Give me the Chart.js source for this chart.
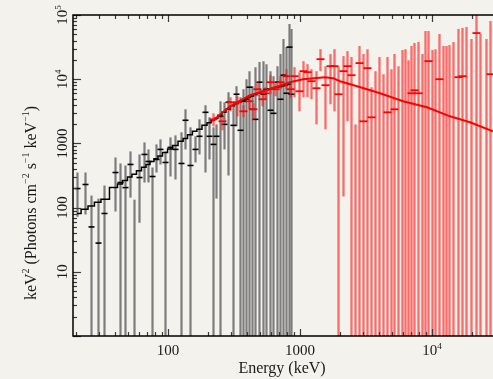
<!DOCTYPE html>
<html>
<head>
<meta charset="utf-8">
<script src="https://cdn.jsdelivr.net/npm/chart.js@4.4.0/dist/chart.umd.min.js"></script>
<style>
  html, body { margin: 0; padding: 0; background: #f4f2ed; overflow: hidden; }
  canvas { display: block; }
</style>
</head>
<body>
<canvas id="spectrum" width="493" height="379"></canvas>
<script>
// ---- Axis ranges and labels ----
const xRange = [19.1, 29040];
const yRange = [1, 1e5];
const xTickValues = [100, 1000, 10000];
const xTickLabels = ['100', '1000', '10^{4}'];
const yTickValues = [10, 100, 1000, 10000, 100000];
const yTickLabels = ['10', '100', '1000', '10^{4}', '10^{5}'];
const xTitle = 'Energy (keV)';
const yTitle = 'keV^{2} (Photons cm^{\u22122} s^{\u22121} keV^{\u22121})';

// ---- Instrument 1 (low energy) unfolded spectrum, keV ----
const blackE = [20.5, 23.6, 26.1, 29.5, 32.8, 39.7, 43.4, 47.3, 51.6, 55.3, 60.4, 65.9, 70.7, 75.7, 81.2, 87.1, 95, 104, 113, 126,
  135, 147, 160, 172, 191, 205, 220, 231, 248, 266, 285, 311, 328, 352, 371, 391, 411, 434, 457, 490,
  525, 553, 593, 625, 670, 707, 745, 785, 826, 857];
const blackFlux = [198, 229, 50, 28, 81, 352, 246, 205, 470, null, 294, 673, 523, 305, 562, 806, 505, 866, 806, 487,
  2290, 453, 806, 1290, 3050, 1290, 965, 1290, 2640, 1980, 4370, 1910, 5830, 1600, 4530, 4870, 7500, 3400, 2370, 8980,
  5830, 6980, 3280, 2940, 8980, 4870, 11550, 6040, 31600, 5830];
const blackHi = [352, 352, 154, 138, 221, 604, 487, 453, 750, 133, 673, 1037, 806, 422, 965, 1155, 750, 1240, 1333, 1490,
  3400, 1780, 1290, 2370, 3930, 2550, 1780, 1980, 4530, 4370, 6270, 3790, 7780, 5230, 6980, 10000, 13300, 7780, 15400, 18450,
  19100, 17150, 13300, 11140, 15960, 24600, 42200, 31600, 72300, 60400];
const blackLo = [72, 78, 0, 0, 0, 87, 0, 0, 143, 0, 58, 246, 246, 0, 352, 470, 0, 305, 274, 0,
  806, 0, 505, 673, 352, 562, 0, 138, 0, 806, 316, 0, 1845, 0, 0, 0, 0, 0, 0, 0,
  0, 0, 0, 0, 0, 0, 0, 0, 0, 0];
const blackModel = [81, 94, 106, 121, 135, 205, 233, 264, 300, 331, 376, 426, 471, 521, 577, 638, 723, 820, 930, 1082,
  1197, 1358, 1540, 1655, 1910, 2090, 2290, 2460, 2740, 3050, 3400, 3850, 4140, 4450, 4700, 4960, 5230, 5480, 5770, 6150,
  6490, 6730, 6980, 7230, 7500, 7660, 7910, 8110, 8350, 8510];

// ---- Instrument 2 (high energy) unfolded spectrum, keV ----
const redE = [220, 257, 295, 333, 371, 411, 441, 473, 516, 544, 593, 647, 707, 785, 841,
  902, 984, 1054, 1132, 1213, 1324, 1419, 1549, 1691, 1812,
  1944, 2120, 2275, 2437, 2612, 2805, 3006, 3221, 3457, 3705, 3972, 4257, 4571, 4898, 5164, 5534, 5931, 6252, 6590, 6950,
  7310, 7850, 8414, 8870, 9340, 10020, 10550, 11320, 12130, 12790, 13460, 14450, 15770, 16830, 18110, 19760, 21580, 23130, 25700, 27540];
const redFlux = [2370, 2210, 4370, 4370, 3160, 4530, 3400, 6980, 4870, 6040, 8980, 6980, 8980, 11140, 6980,
  11140, 6490, 13340, 12860, 9310, 7230, 20500, 8060, 15960, 15960,
  5830, 13340, 15960, 11550, null, 17800, 2210, 14860, 2550, null, null, null, 3050, null, 3400, null, null, null, null, 6040,
  6730, 6040, null, null, 19100, null, null, 10000, null, null, null, null, 10750, 11140, null, null, 52300, null, null, 11970];
const redHi = [2940, 2640, 5230, 5420, 3930, 5620, 4220, 8980, 5830, 7500, 11550, 8660, 11140, 14330, 9310,
  15400, 12860, 19100, 17150, 14330, 13340, 29400, 15960, 24600, 29400,
  15960, 22900, 27400, 22100, 1980, 32800, 24600, 29400, 7500, 13340, 22100, 11970, 22100, 14330, 24600, 15960, 28400, 29400, 19800, 32800,
  36500, 37900, 24600, 56200, 56200, 28400, 29400, 50500, 32800, 32800, 34000, 37900, 60400, 62700, 64900, 42200, 115000, 50500, 42200, 80600];
const redLo = [1845, 1600, 3160, 2640, 2550, 3400, 2370, 5420, 3790, 4870, 5830, 5420, 6980, 6980, 5050,
  5230, 3160, 5230, 5230, 4870, 1980, 13340, 1655, 4070, 3160,
  0, 149, 2210, 0, 0, 0, 0, 0, 0, 0, 0, 0, 0, 0, 0, 0, 0, 0, 0, 0,
  0, 0, 0, 0, 0, 0, 0, 0, 0, 0, 0, 0, 0, 0, 0, 0, 0, 0, 0, 0];

// ---- Fitted model, high-energy branch ----
const redModelE = [216, 295, 419, 593, 841, 1054, 1280, 1549, 1780, 2014, 2709, 4050, 6045, 9180, 13710, 19440, 29040];
const redModel = [2207, 3787, 5623, 6980, 8980, 10000, 10370, 10750, 10370, 9300, 7780, 6040, 4530, 3650, 2640, 2130, 1540];

// ---- Styling ----
const BG = '#f4f2ed';
const SERIF = '"Liberation Serif", "Times New Roman", serif';

const toPoints = (xs, ys) => xs.map((x, i) => ({ x, y: ys[i] }));

// Split "10^{4}" style strings into normal / superscript runs
function parseRich(str) {
  const parts = [];
  const re = /\^\{([^}]*)\}/g;
  let last = 0, m;
  while ((m = re.exec(str)) !== null) {
    if (m.index > last) parts.push({ t: str.slice(last, m.index), sup: false });
    parts.push({ t: m[1], sup: true });
    last = re.lastIndex;
  }
  if (last < str.length) parts.push({ t: str.slice(last), sup: false });
  return parts;
}
function fontFor(p, size) {
  return (p.sup ? Math.round(size * 0.62) : size) + 'px ' + SERIF;
}
function drawRich(ctx, str, x, y, size, align) {
  const parts = parseRich(str);
  let w = 0;
  for (const p of parts) { ctx.font = fontFor(p, size); w += ctx.measureText(p.t).width; }
  let cx = align === 'center' ? x - w / 2 : (align === 'right' ? x - w : x);
  ctx.textAlign = 'left';
  ctx.textBaseline = 'alphabetic';
  for (const p of parts) {
    ctx.font = fontFor(p, size);
    ctx.fillText(p.t, cx, p.sup ? y - size * 0.42 : y);
    cx += ctx.measureText(p.t).width;
  }
}

// Error bars and bin markers for the data series
const errorBarPlugin = {
  id: 'errorBars',
  beforeDatasetDraw(chart, args) {
    const ds = chart.data.datasets[args.index];
    if (!ds.errHi) return;
    const { ctx, chartArea: a } = chart;
    const xs = chart.scales.x, ys = chart.scales.y;
    ctx.save();
    ctx.beginPath();
    ctx.rect(a.left, a.top, a.right - a.left, a.bottom - a.top);
    ctx.clip();
    ctx.lineCap = 'butt';
    ctx.strokeStyle = ds.errColor;
    ctx.lineWidth = ds.errWidth;
    ds.data.forEach((p, i) => {
      const px = Math.round(xs.getPixelForValue(p.x)) + 0.5;
      const top = ys.getPixelForValue(ds.errHi[i]);
      const lo = ds.errLo[i];
      const bot = lo > ys.min ? ys.getPixelForValue(lo) : a.bottom;
      ctx.beginPath();
      ctx.moveTo(px, top);
      ctx.lineTo(px, bot);
      ctx.stroke();
    });
    ctx.strokeStyle = ds.markColor;
    ctx.lineWidth = ds.markLine;
    ds.data.forEach((p) => {
      if (p.y == null) return;
      const px = Math.round(xs.getPixelForValue(p.x)) + 0.5;
      const py = ys.getPixelForValue(p.y);
      ctx.beginPath();
      ctx.moveTo(px - ds.markHalf, py);
      ctx.lineTo(px + ds.markHalf, py);
      ctx.stroke();
    });
    ctx.restore();
  }
};

// Background, frame, inward ticks, tick labels and titles
const framePlugin = {
  id: 'frame',
  beforeDraw(chart) {
    const { ctx, width, height } = chart;
    ctx.save();
    ctx.fillStyle = BG;
    ctx.fillRect(0, 0, width, height);
    ctx.restore();
  },
  afterDraw(chart) {
    const { ctx, chartArea: a } = chart;
    const xs = chart.scales.x, ys = chart.scales.y;
    ctx.save();

    // inward ticks: majors at decades, minors at 2..9
    ctx.strokeStyle = '#3a3a3a';
    ctx.lineWidth = 1.2;
    const ticksFor = (scale) => {
      const out = [];
      const d0 = Math.floor(Math.log10(scale.min)), d1 = Math.ceil(Math.log10(scale.max));
      for (let d = d0; d <= d1; d++) {
        for (let m = 1; m <= 9; m++) {
          const v = m * Math.pow(10, d);
          if (v >= scale.min * 0.999 && v <= scale.max * 1.001) out.push({ v, major: m === 1 });
        }
      }
      return out;
    };
    ticksFor(ys).forEach(t => {
      const py = Math.round(ys.getPixelForValue(t.v)) + 0.5;
      const len = t.major ? 8 : 4;
      ctx.beginPath(); ctx.moveTo(a.left, py); ctx.lineTo(a.left + len, py); ctx.stroke();
    });
    ticksFor(xs).forEach(t => {
      const px = Math.round(xs.getPixelForValue(t.v)) + 0.5;
      const len = t.major ? 7 : 4;
      ctx.beginPath(); ctx.moveTo(px, a.bottom); ctx.lineTo(px, a.bottom - len); ctx.stroke();
      ctx.beginPath(); ctx.moveTo(px, a.top); ctx.lineTo(px, a.top + len); ctx.stroke();
    });

    // frame (right side runs off the page)
    ctx.strokeStyle = '#000';
    ctx.lineWidth = 1.5;
    ctx.beginPath();
    ctx.moveTo(a.right + 2, a.top);
    ctx.lineTo(a.left, a.top);
    ctx.lineTo(a.left, a.bottom);
    ctx.lineTo(a.right + 2, a.bottom);
    ctx.stroke();

    // tick labels
    ctx.fillStyle = '#1a1a1a';
    xTickValues.forEach((v, i) => {
      drawRich(ctx, xTickLabels[i], xs.getPixelForValue(v), a.bottom + 19, 15, 'center');
    });
    yTickValues.forEach((v, i) => {
      ctx.save();
      ctx.translate(a.left - 6, ys.getPixelForValue(v));
      ctx.rotate(-Math.PI / 2);
      drawRich(ctx, yTickLabels[i], 0, 0, 15, 'center');
      ctx.restore();
    });

    // axis titles
    drawRich(ctx, xTitle, (a.left + 493) / 2 - 1, a.bottom + 37, 16, 'center');
    ctx.save();
    ctx.translate(36, 203);
    ctx.rotate(-Math.PI / 2);
    drawRich(ctx, yTitle, 0, 0, 16, 'center');
    ctx.restore();

    ctx.restore();
  }
};

new Chart(document.getElementById('spectrum'), {
  type: 'scatter',
  data: {
    datasets: [
      {
        label: 'model (high)',
        data: toPoints(redModelE, redModel),
        showLine: true,
        borderColor: '#ff0000',
        borderWidth: 2,
        pointRadius: 0,
        tension: 0,
        order: 1
      },
      {
        label: 'high-energy data',
        data: toPoints(redE, redFlux),
        showLine: false,
        pointRadius: 0,
        errHi: redHi,
        errLo: redLo,
        errColor: 'rgba(255, 25, 25, 0.62)',
        errWidth: 2.3,
        markColor: '#ff0000',
        markLine: 1.8,
        markHalf: 4,
        order: 2
      },
      {
        label: 'model (low)',
        data: toPoints(blackE, blackModel),
        showLine: true,
        stepped: 'middle',
        borderColor: '#000000',
        borderWidth: 1.5,
        pointRadius: 0,
        order: 3
      },
      {
        label: 'low-energy data',
        data: toPoints(blackE, blackFlux),
        showLine: false,
        pointRadius: 0,
        errHi: blackHi,
        errLo: blackLo,
        errColor: '#7c7c7c',
        errWidth: 2.2,
        markColor: '#000000',
        markLine: 1.6,
        markHalf: 3,
        order: 4
      }
    ]
  },
  options: {
    responsive: false,
    animation: false,
    devicePixelRatio: 1,
    events: [],
    layout: { padding: { left: 73, top: 15, right: 0, bottom: 43 } },
    plugins: { legend: { display: false }, tooltip: { enabled: false } },
    scales: {
      x: { type: 'logarithmic', min: xRange[0], max: xRange[1], bounds: 'data', display: false },
      y: { type: 'logarithmic', min: yRange[0], max: yRange[1], bounds: 'data', display: false }
    }
  },
  plugins: [errorBarPlugin, framePlugin]
});
</script>
</body>
</html>
